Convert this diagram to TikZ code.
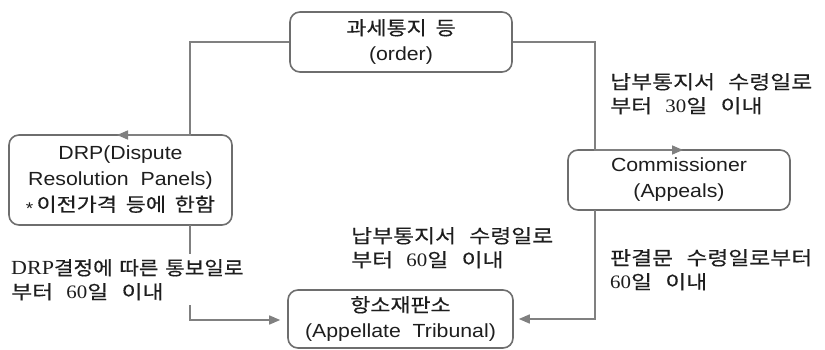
\documentclass[tikz,border=0pt]{standalone}
\usepackage{fontspec}
\setmainfont{Liberation Sans}[FakeStretch=1.12]
\newfontfamily\kosans{Noto Sans CJK KR}[FakeStretch=1.15,WordSpace=1.8,FakeBold=0.35]
\newfontfamily\konote{Noto Sans CJK KR}[FakeStretch=1.2,WordSpace=2.6,FakeBold=0.3]
\newfontfamily\konotetight{Noto Sans CJK KR}[FakeStretch=1.12,WordSpace=1.4,FakeBold=0.3]
\newfontfamily\latserif{Liberation Serif}[FakeStretch=1.1]
\newcommand\kt[1]{{\kosans #1}}
\newcommand\kn[1]{{\konote #1}}
\newcommand\knt[1]{{\konotetight #1}}
\newcommand\st[1]{{\latserif #1}}
\usetikzlibrary{arrows.meta}
\definecolor{linegray}{HTML}{808080}
\definecolor{boxgray}{HTML}{6E6E6E}
\definecolor{ink}{HTML}{1E1E1E}
\tikzset{
  stage/.style={draw=boxgray, line width=1.6pt, rounded corners=10pt, fill=white,
    align=center, text=ink, font=\fontsize{19}{26}\selectfont, inner sep=0pt},
  conn/.style={draw=linegray, line width=1.6pt},
  tip/.style={-{Triangle[length=11pt,width=9pt]}},
  note/.style={align=left, text=ink, font=\fontsize{19}{24}\selectfont,
    inner sep=0pt, anchor=north west}
}
\begin{document}
\begin{tikzpicture}[x=1pt,y=-1pt]
\useasboundingbox (0,0) rectangle (825,350);

% stages of the appeal
\node[stage, minimum width=222pt, minimum height=60pt] (order) at (401,42)
  {\kt{과세통지 등}\\(order)};
\node[stage, minimum width=223pt, minimum height=90pt] (drp) at (120.5,180)
  {DRP(Dispute\\Resolution\ \ Panels)\\%
   \raisebox{-3pt}{\fontsize{17}{26}\selectfont *}\,\kt{이전가격 등에 한함}};
\node[stage, minimum width=222pt, minimum height=60pt] (comm) at (679,180)
  {Commissioner\\(Appeals)};
\node[stage, minimum width=225pt, minimum height=58pt] (trib) at (400.5,319)
  {\kt{항소재판소}\\(Appellate\ \ Tribunal)};

% bends and arrow ends of the connectors
\coordinate (lbend) at (190,135);
\coordinate (ltip)  at (117,135);
\coordinate (rbend) at (595,150);
\coordinate (rtip)  at (683,150);
\coordinate (dout)  at (190,225);
\coordinate (dbend) at (190,320);
\coordinate (cout)  at (595,210);
\coordinate (cbend) at (595,319);

\draw[conn, tip] (order.west) -| (lbend) -- (ltip);
\draw[conn, tip] (order.east) -| (rbend) -- (rtip);
\draw[conn, tip, shorten >=7pt] (dout) -- (dbend) -- (dbend -| trib.west);
\draw[conn, tip, shorten >=5pt] (cout) -- (cbend) -- (trib.east);

% time limits
\node[note] (n30) at (610,73)
  {\kn{납부통지서 수령일로}\\\kn{부터 }\st{30}\kn{일 이내}};
\node[note] (n60) at (351,227)
  {\kn{납부통지서 수령일로}\\\kn{부터 }\st{60}\kn{일 이내}};
\node[note, fill=white, inner ysep=5pt] (ndrp) at (11,254)
  {{\fontsize{20}{24}\selectfont\st{DRP}}\knt{결정에 따른 통보일로}\\\kn{부터 }\st{60}\kn{일 이내}};
\node[note] (njud) at (610,249)
  {\kn{판결문 수령일로부터}\\\st{60}\kn{일 이내}};
\end{tikzpicture}
\end{document}
